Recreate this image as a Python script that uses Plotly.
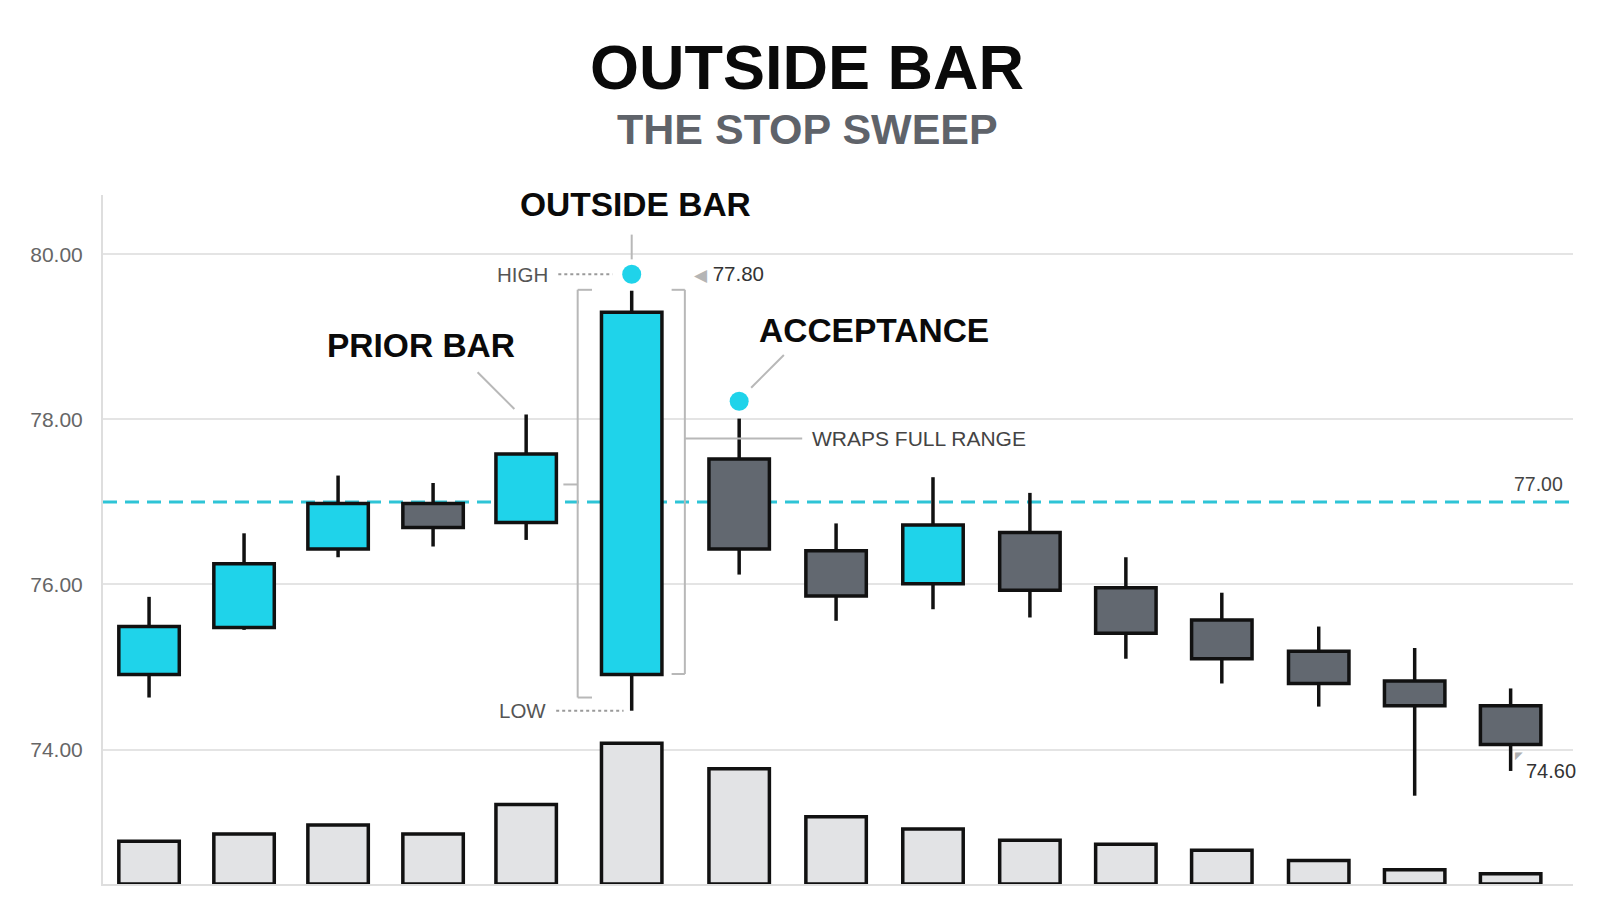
import plotly.graph_objects as go

# ---------------- data ----------------
x_pos = [0, 0.99, 1.97, 2.96, 3.93, 5.03, 6.15, 7.16, 8.17, 9.18, 10.18, 11.18, 12.19, 13.19, 14.19]
opens = [74.91, 75.48, 76.43, 76.98, 76.75, 74.91, 77.52, 76.41, 76.01, 76.63, 75.96, 75.57, 75.19, 74.83, 74.53]
closes = [75.49, 76.25, 76.98, 76.69, 77.58, 79.30, 76.43, 75.86, 76.72, 75.93, 75.41, 75.10, 74.80, 74.53, 74.06]
highs = [75.85, 76.62, 77.32, 77.23, 78.06, 79.56, 78.01, 76.74, 77.30, 77.11, 76.33, 75.90, 75.49, 75.23, 74.74]
lows = [74.63, 75.45, 76.33, 76.46, 76.54, 74.47, 76.12, 75.56, 75.70, 75.60, 75.10, 74.80, 74.52, 73.44, 73.74]
volume = [4.2, 4.9, 5.8, 4.9, 7.8, 13.8, 11.3, 6.6, 5.4, 4.3, 3.9, 3.3, 2.3, 1.4, 1.0]
level = 77.00
y_ticks = [74, 76, 78, 80]
outside_idx = 5
prior_idx = 4
accept_idx = 6

CYAN = "#1fd3ea"
GRAY = "#626870"
VOLFILL = "#e2e3e5"
LINE = "#111111"
FONT = "Liberation Sans"
LW = 3.5

fig = go.Figure()

# wicks (outside of the bodies only, so bodies stay on top visually)
wx, wy = [], []
for xi, o, c, h, l in zip(x_pos, opens, closes, highs, lows):
    top, bot = max(o, c), min(o, c)
    wx += [xi, xi, None, xi, xi, None]
    wy += [top, h, None, l, bot, None]
fig.add_trace(go.Scatter(x=wx, y=wy, mode="lines", line=dict(color=LINE, width=LW),
                         hoverinfo="skip", showlegend=False))

# annotation dots
dot_x = [x_pos[outside_idx], x_pos[accept_idx]]
dot_y = [highs[outside_idx] + 0.2, highs[accept_idx] + 0.21]
fig.add_trace(go.Scatter(x=dot_x, y=dot_y, mode="markers",
                         marker=dict(color=CYAN, size=19, line=dict(width=0)),
                         hoverinfo="skip", showlegend=False))

# bodies
base = [min(o, c) for o, c in zip(opens, closes)]
height = [abs(c - o) for o, c in zip(opens, closes)]
colors = [CYAN if c >= o else GRAY for o, c in zip(opens, closes)]
fig.add_trace(go.Bar(x=x_pos, y=height, base=base, width=0.63,
                     marker=dict(color=colors, line=dict(color=LINE, width=LW)),
                     showlegend=False, hoverinfo="skip"))

# volume
fig.add_trace(go.Bar(x=x_pos, y=volume, width=0.63, yaxis="y2",
                     marker=dict(color=VOLFILL, line=dict(color=LINE, width=LW)),
                     showlegend=False, hoverinfo="skip"))

shapes = []
# dashed level line
shapes.append(dict(type="line", xref="paper", yref="y", x0=0, x1=1, y0=level, y1=level,
                   line=dict(color="#2ec4d6", width=3, dash="14px,8px"), layer="below"))

GL = "#b8b8b8"
def seg(x0, y0, x1, y1, color=GL, width=2, dash=None):
    d = dict(type="line", xref="x", yref="y", x0=x0, y0=y0, x1=x1, y1=y1,
             line=dict(color=color, width=width))
    if dash:
        d["line"]["dash"] = dash
    shapes.append(d)

xo = x_pos[outside_idx]
# OUTSIDE BAR connector
seg(xo, 80.24, xo, 79.94)
# HIGH dotted
seg(4.265, dot_y[0], 4.83, dot_y[0], color="#9a9a9a", dash="dot")
# LOW dotted
seg(4.243, lows[outside_idx], 4.945, lows[outside_idx], color="#9a9a9a", dash="dot")
# brackets
seg(4.467, 79.571, 4.467, 74.63)
seg(4.467, 79.571, 4.616, 79.571)
seg(4.467, 74.63, 4.616, 74.63)
seg(5.584, 79.571, 5.584, 74.915)
seg(5.446, 79.571, 5.584, 79.571)
seg(5.446, 74.915, 5.584, 74.915)
seg(4.318, 77.212, 4.467, 77.212)
seg(5.584, 77.768, 6.807, 77.768)
# PRIOR BAR connector
seg(3.424, 78.571, 3.807, 78.126)
# ACCEPTANCE connector
seg(6.616, 78.781, 6.275, 78.385)

ann = []
def txt(x, y, text, size=20, color="#555", bold=False, xanchor="center", yanchor="middle",
        xref="x", yref="y"):
    ann.append(dict(x=x, y=y, xref=xref, yref=yref, text=f"<b>{text}</b>" if bold else text,
                    showarrow=False, xanchor=xanchor, yanchor=yanchor,
                    font=dict(family=FONT, size=size, color=color)))

txt(0.479, 1.1858, "OUTSIDE BAR", size=63, color="#0a0a0a", bold=True, xref="paper", yref="paper")
txt(0.479, 1.0965, "THE STOP SWEEP", size=43, color="#5f636a", bold=True, xref="paper", yref="paper")
txt(5.073, 80.60, "OUTSIDE BAR", size=33.5, color="#0a0a0a", bold=True)
txt(2.829, 78.90, "PRIOR BAR", size=33.5, color="#0a0a0a", bold=True)
txt(7.552, 79.08, "ACCEPTANCE", size=33.5, color="#0a0a0a", bold=True)
txt(4.18, dot_y[0], "HIGH", size=20.5, color="#555", xanchor="right")
txt(4.158, lows[outside_idx], "LOW", size=20.5, color="#555", xanchor="right")
txt(5.66, 79.77, "<span style='color:#b5b5b5;font-size:17px'>◀</span> 77.80", size=20.5,
    color="#333", xanchor="left")
txt(6.892, 77.768, "WRAPS FULL RANGE", size=21, color="#444", xanchor="left")
txt(14.76, level + 0.06, "77.00", size=19.5, color="#444", xanchor="right", yanchor="bottom")
txt(14.33, 73.74, "74.60", size=20, color="#333", xanchor="left")
txt(14.28, 73.93, "◤", size=10, color="#b0b0b0")

fig.update_layout(
    width=1600, height=914,
    margin=dict(l=95, r=35, t=187, b=38),
    paper_bgcolor="white", plot_bgcolor="white",
    barmode="overlay",
    shapes=shapes, annotations=ann,
    xaxis=dict(range=[-0.48, 14.84], showgrid=False, zeroline=False, showticklabels=False,
               showline=True, linecolor="#dedede", linewidth=2, fixedrange=True),
    yaxis=dict(range=[72.37, 80.72], tickvals=y_ticks, tickformat=".2f",
               showgrid=True, gridcolor="#e4e4e4", gridwidth=2, zeroline=False,
               showline=True, linecolor="#dedede", linewidth=2, ticks="",
               ticklabelstandoff=14,
               tickfont=dict(family=FONT, size=21, color="#666")),
    yaxis2=dict(range=[0, 67.6], overlaying="y", visible=False, showgrid=False),
    showlegend=False,
)

fig.write_html("out.html")
